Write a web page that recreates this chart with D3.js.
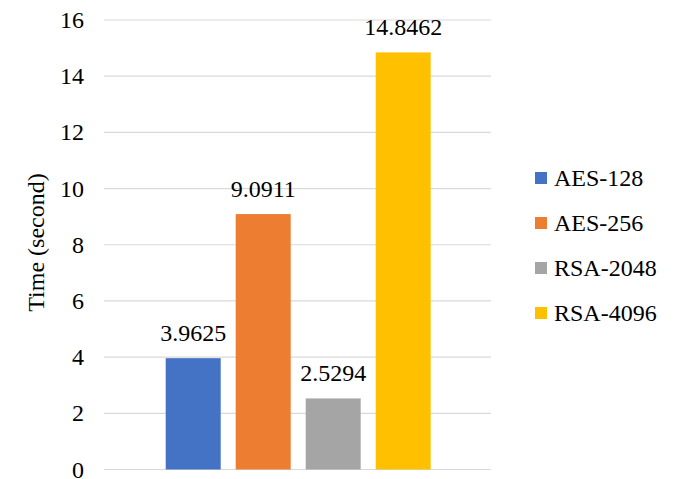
<!DOCTYPE html>
<html><head><meta charset="utf-8">
<script src="https://cdn.jsdelivr.net/npm/d3@7"></script>
</head><body style="margin:0;background:#fff">
<svg id="c" width="675" height="479" style="display:block"></svg>
<script>
const series = ["AES-128","AES-256","RSA-2048","RSA-4096"];
const values = [3.9625, 9.0911, 2.5294, 14.8462];
const colors = ["#4472C4","#ED7D31","#A5A5A5","#FFC000"];
const yTicks = [0,2,4,6,8,10,12,14,16];
const yTitle = "Time (second)";

(function(){
const FONT = '"Liberation Serif"';
const svg = d3.select("#c");
const pl = 104, pr = 491, pt = 20, pb = 469.5;
const y = d3.scaleLinear().domain([0,16]).range([pb, pt]);
const x = d3.scaleBand().domain(series).range([158.2, 438.2]).paddingInner(15/70).paddingOuter(7.5/70);

svg.append("g").selectAll("line").data(yTicks).join("line")
  .attr("x1", pl).attr("x2", pr)
  .attr("y1", d => y(d)).attr("y2", d => y(d))
  .attr("stroke", "#D9D9D9").attr("stroke-width", 1.2);

const tickG = svg.append("g");
tickG.selectAll("text").data(yTicks).join("text")
  .attr("x", pl - 20).attr("y", d => y(d) + 8)
  .attr("text-anchor", "end")
  .style("font-family", FONT).style("font-size", "24px").attr("fill", "#000")
  .text(d => d);

svg.append("text").attr("transform", `translate(44,242.5) rotate(-90)`)
  .attr("text-anchor", "middle").style("font-family", FONT).style("font-size", "24px").attr("fill", "#000").text(yTitle);

svg.append("g").selectAll("rect").data(series).join("rect")
  .attr("x", d => x(d)).attr("width", x.bandwidth())
  .attr("y", (d,i) => y(values[i])).attr("height", (d,i) => y(0) - y(values[i]))
  .attr("fill", (d,i) => colors[i]);

svg.append("g").selectAll("text").data(series).join("text")
  .attr("x", d => x(d) + x.bandwidth()/2)
  .attr("y", (d,i) => y(values[i]) - 17)
  .attr("text-anchor", "middle").style("font-family", FONT).style("font-size", "24px").attr("fill", "#000")
  .text((d,i) => d3.format(".4f")(values[i]));

const lg = svg.append("g").selectAll("g").data(series).join("g")
  .attr("transform", (d,i) => `translate(535,${178 + i*45})`);
lg.append("rect").attr("x", 0).attr("y", -6).attr("width", 12).attr("height", 12).attr("fill", (d,i) => colors[i]);
lg.append("text").attr("x", 19).attr("y", 8).style("font-family", FONT).style("font-size", "24px").attr("fill", "#000").text(d => d);
})();
</script></body></html>
